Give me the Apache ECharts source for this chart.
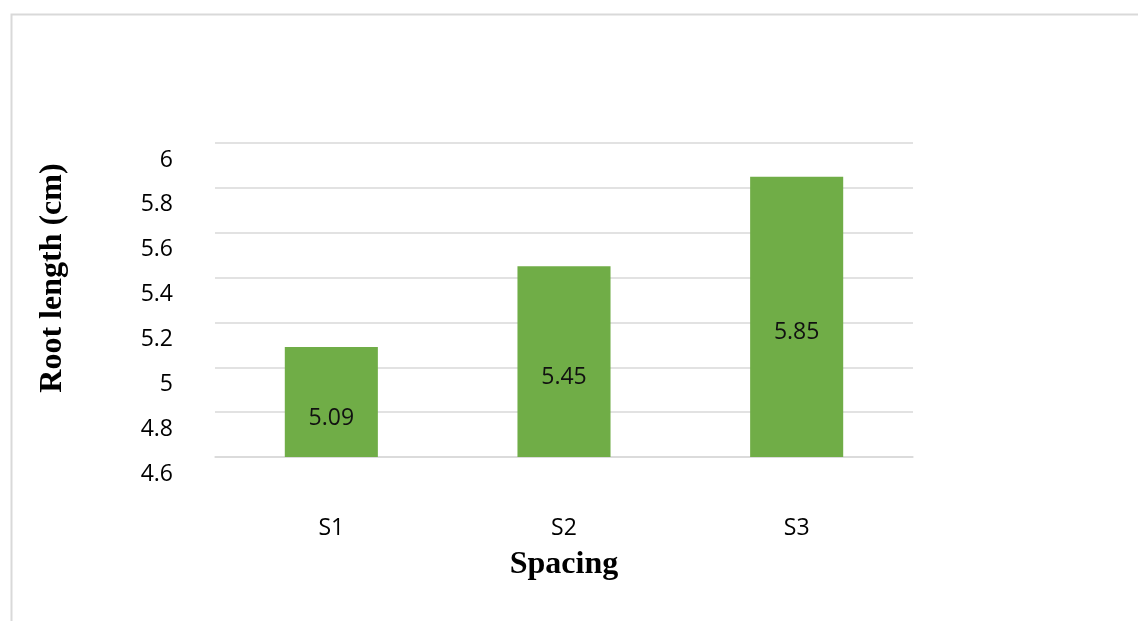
<!DOCTYPE html>
<html>
<head>
<meta charset="utf-8">
<script src="https://cdn.jsdelivr.net/npm/echarts@6/dist/echarts.min.js"></script>
<style>
html,body{margin:0;padding:0;background:#fff;}
#chart{width:1138px;height:621px;}
</style>
</head>
<body>
<div id="chart"></div>
<script>
const categories = ['S1', 'S2', 'S3'];
const rootLength = [5.09, 5.45, 5.85];
const yTicks = { min: 4.6, max: 6, interval: 0.2 };

const chart = echarts.init(document.getElementById('chart'), null, { renderer: 'canvas' });
chart.setOption({
  animation: false,
  backgroundColor: '#ffffff',
  graphic: [{
    type: 'rect',
    left: 9, top: 12,
    shape: { width: 1200, height: 700 },
    style: { fill: 'none', stroke: '#d9d9d9', lineWidth: 2 }
  }],
  grid: { left: 215, right: 225, top: 143, bottom: 164, containLabel: false },
  xAxis: {
    type: 'category',
    data: categories,
    axisLine: { show: true, lineStyle: { color: '#d9d9d9', width: 1.5 } },
    axisTick: { show: false },
    axisLabel: { margin: 60, fontFamily: 'Open Sans', fontSize: 23, color: '#000' },
    name: 'Spacing',
    nameLocation: 'middle',
    nameGap: 92,
    nameTextStyle: { fontFamily: 'Liberation Serif', fontWeight: 'bold', fontSize: 32, color: '#000' }
  },
  yAxis: {
    type: 'value',
    min: yTicks.min, max: yTicks.max, interval: yTicks.interval,
    axisLine: { show: false },
    axisTick: { show: false },
    splitLine: { lineStyle: { color: '#d9d9d9', width: 1.5 } },
    axisLabel: {
      margin: 42, fontFamily: 'Open Sans', fontSize: 23, color: '#000',
      verticalAlign: 'top', lineHeight: 34,
      formatter: v => String(Math.round(v * 10) / 10)
    },
    name: 'Root length (cm)',
    nameLocation: 'middle',
    nameGap: 146,
    nameTextStyle: { fontFamily: 'Liberation Serif', fontWeight: 'bold', fontSize: 32, color: '#000', padding: [0, 0, 0, 44] }
  },
  series: [{
    type: 'bar',
    data: rootLength,
    barWidth: '40%',
    itemStyle: { color: '#70ad47' },
    label: {
      show: true, position: 'inside', offset: [0, 16],
      fontFamily: 'Open Sans', fontSize: 23, color: '#111',
      formatter: p => p.value.toFixed(2)
    }
  }]
});
</script>
</body>
</html>
